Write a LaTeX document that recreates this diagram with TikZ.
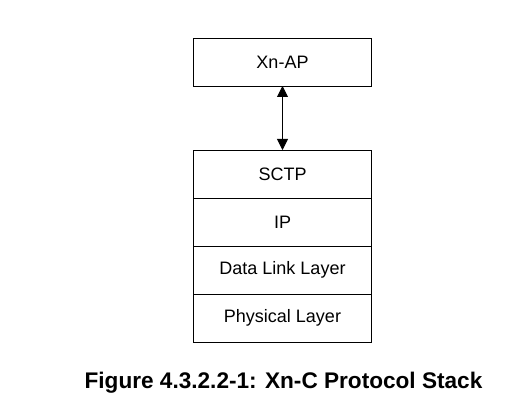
\documentclass[tikz,border=0pt]{standalone}
\usepackage{fontspec}
\setmainfont{Liberation Sans}
\usetikzlibrary{arrows.meta, positioning}

\begin{document}
\begin{tikzpicture}[>={Triangle[width=11pt,length=11pt]}, x=1pt, y=-1pt,
        layer/.style={rectangle, draw, line width=0.9pt, minimum width=178pt, minimum height=48pt, inner sep=0pt, outer sep=0pt, font=\fontsize{18}{20}\selectfont},
        caption/.style={font=\fontsize{22.6}{26}\selectfont\bfseries}]
        \useasboundingbox (0,0) rectangle (532,414);
        
        \node (xnap) [layer] at (282.5,62) {Xn-AP};
        \node (sctp) [layer, below=64pt of xnap] {SCTP};
        \node (ip) [layer, below=0pt of sctp] {IP};
        \node (dll) [layer, below=0pt of ip] {Data Link Layer};
        \node (phy) [layer, below=0pt of dll] {Physical Layer};
        \node (cap) [caption, anchor=base] at (283.5,388) {Figure 4.3.2.2-1: Xn-C Protocol Stack};
        
        \draw[<->, line width=0.9pt] (xnap) -- (sctp);
\end{tikzpicture}
\end{document}
